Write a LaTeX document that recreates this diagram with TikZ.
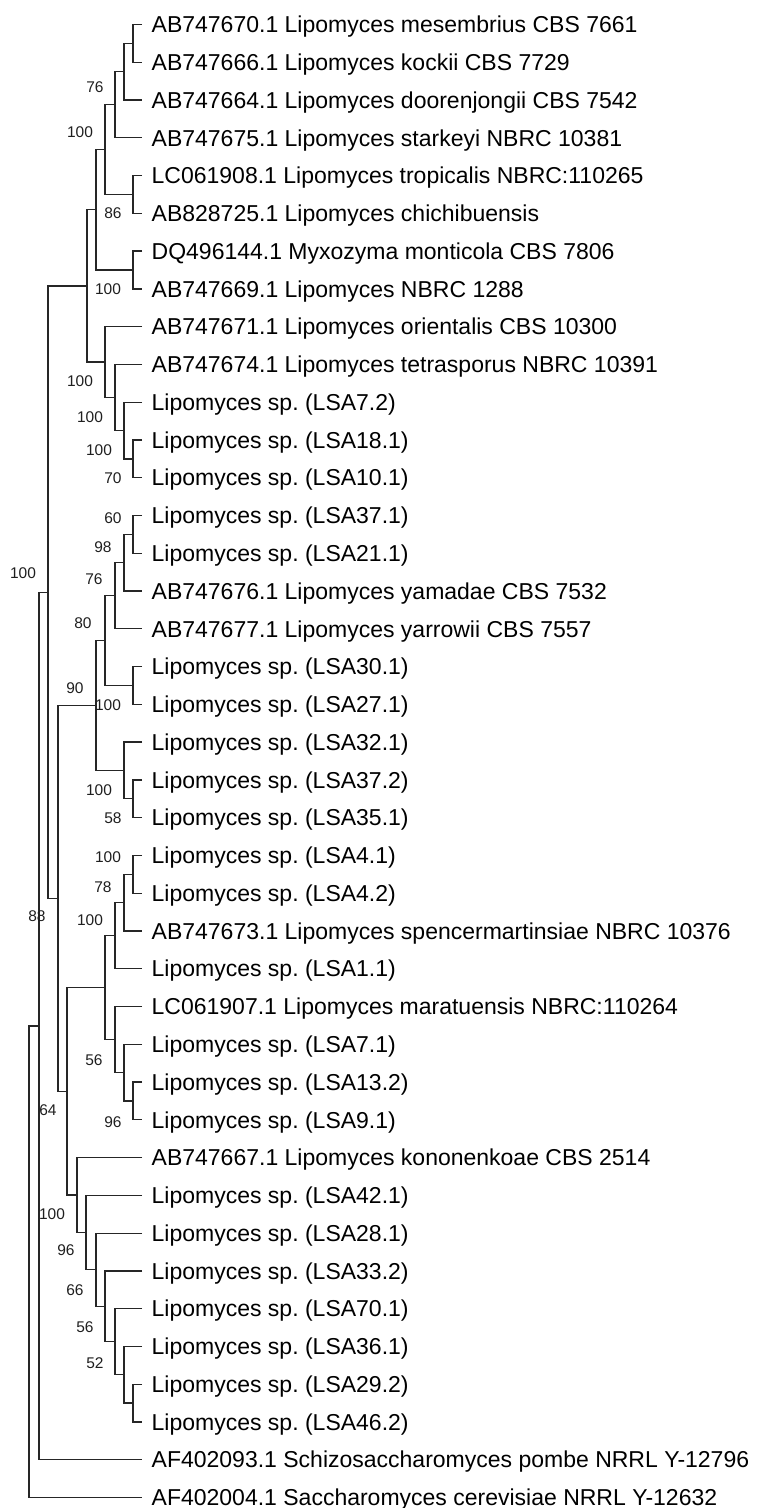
\documentclass[tikz,border=0pt]{standalone}
\usepackage{fontspec}
\setmainfont{Liberation Sans}
\newcommand\ky[1]{(24.5+(#1)*37.77)}
\newcommand\clade[3]{\draw[branch] (#2) -| (#1) |- (#3);}
\begin{document}
\frenchspacing
\begin{tikzpicture}[x=1pt,y=-1pt,
  branch/.style={draw=black!85, line width=1.3pt},
  leaflabel/.style={anchor=base west, inner sep=0pt, font=\fontsize{23}{26}\selectfont, text=black},
  boot/.style={anchor=center, inner sep=0pt, font=\fontsize{15.5}{18}\selectfont, text=black!88}]
\useasboundingbox (0,0) rectangle (757,1508);
\fill[white] (0,0) rectangle (757,1508);
% leaves
\foreach \k/\t in {
0/{AB747670.1 Lipomyces mesembrius CBS 7661},
1/{AB747666.1 Lipomyces kockii CBS 7729},
2/{AB747664.1 Lipomyces doorenjongii CBS 7542},
3/{AB747675.1 Lipomyces starkeyi NBRC 10381},
4/{LC061908.1 Lipomyces tropicalis NBRC:110265},
5/{AB828725.1 Lipomyces chichibuensis},
6/{DQ496144.1 Myxozyma monticola CBS 7806},
7/{AB747669.1 Lipomyces NBRC 1288},
8/{AB747671.1 Lipomyces orientalis CBS 10300},
9/{AB747674.1 Lipomyces tetrasporus NBRC 10391},
10/{Lipomyces sp. (LSA7.2)},
11/{Lipomyces sp. (LSA18.1)},
12/{Lipomyces sp. (LSA10.1)},
13/{Lipomyces sp. (LSA37.1)},
14/{Lipomyces sp. (LSA21.1)},
15/{AB747676.1 Lipomyces yamadae CBS 7532},
16/{AB747677.1 Lipomyces yarrowii CBS 7557},
17/{Lipomyces sp. (LSA30.1)},
18/{Lipomyces sp. (LSA27.1)},
19/{Lipomyces sp. (LSA32.1)},
20/{Lipomyces sp. (LSA37.2)},
21/{Lipomyces sp. (LSA35.1)},
22/{Lipomyces sp. (LSA4.1)},
23/{Lipomyces sp. (LSA4.2)},
24/{AB747673.1 Lipomyces spencermartinsiae NBRC 10376},
25/{Lipomyces sp. (LSA1.1)},
26/{LC061907.1 Lipomyces maratuensis NBRC:110264},
27/{Lipomyces sp. (LSA7.1)},
28/{Lipomyces sp. (LSA13.2)},
29/{Lipomyces sp. (LSA9.1)},
30/{AB747667.1 Lipomyces kononenkoae CBS 2514},
31/{Lipomyces sp. (LSA42.1)},
32/{Lipomyces sp. (LSA28.1)},
33/{Lipomyces sp. (LSA33.2)},
34/{Lipomyces sp. (LSA70.1)},
35/{Lipomyces sp. (LSA36.1)},
36/{Lipomyces sp. (LSA29.2)},
37/{Lipomyces sp. (LSA46.2)},
38/{AF402093.1 Schizosaccharomyces pombe NRRL Y-12796},
39/{AF402004.1 Saccharomyces cerevisiae NRRL Y-12632}}{
  \coordinate (t\k) at (142,{\ky{\k}});
  \node[leaflabel] (l\k) at (151.5,{\ky{\k}+8.2}) {\t};
}
% internal nodes
\coordinate (a1) at (133,{\ky{0.5}});
\coordinate (a2) at (124,{\ky{1.25}});
\coordinate (a3) at (115,{\ky{2.125}});
\coordinate (a4) at (133,{\ky{4.5}});
\coordinate (a5) at (105,{\ky{3.3125}});
\coordinate (a6) at (133,{\ky{6.5}});
\coordinate (a7) at (96,{\ky{4.90625}});
\coordinate (a8) at (133,{\ky{11.5}});
\coordinate (a9) at (124,{\ky{10.75}});
\coordinate (a10) at (115,{\ky{9.875}});
\coordinate (a11) at (105,{\ky{8.9375}});
\coordinate (a12) at (87,{\ky{6.921875}});
\coordinate (b1) at (133,{\ky{13.5}});
\coordinate (b2) at (124,{\ky{14.25}});
\coordinate (b3) at (115,{\ky{15.125}});
\coordinate (b4) at (133,{\ky{17.5}});
\coordinate (b5) at (105,{\ky{16.3125}});
\coordinate (b6) at (133,{\ky{20.5}});
\coordinate (b7) at (124,{\ky{19.75}});
\coordinate (b8) at (96,{\ky{18.03125}});
\coordinate (c1) at (133,{\ky{22.5}});
\coordinate (c2) at (124,{\ky{23.25}});
\coordinate (c3) at (115,{\ky{24.125}});
\coordinate (c4) at (133,{\ky{28.5}});
\coordinate (c5) at (124,{\ky{27.75}});
\coordinate (c6) at (115,{\ky{26.875}});
\coordinate (c7) at (105,{\ky{25.5}});
\coordinate (d1) at (133,{\ky{36.5}});
\coordinate (d2) at (124,{\ky{35.75}});
\coordinate (d3) at (115,{\ky{34.875}});
\coordinate (d4) at (105,{\ky{33.9375}});
\coordinate (d5) at (96,{\ky{32.96875}});
\coordinate (d6) at (86,{\ky{31.984375}});
\coordinate (d7) at (77,{\ky{30.9921875}});
\coordinate (e1) at (67,{\ky{28.24609}});
\coordinate (e2) at (58,{\ky{23.13867}});
\coordinate (e3) at (48,{\ky{15.03027}});
\coordinate (e4) at (39,{\ky{26.51514}});
\coordinate (rt) at (29,{\ky{32.75757}});
% branches
\clade{a1}{t0}{t1}
\clade{a2}{a1}{t2}
\clade{a3}{a2}{t3}
\clade{a4}{t4}{t5}
\clade{a5}{a3}{a4}
\clade{a6}{t6}{t7}
\clade{a7}{a5}{a6}
\clade{a8}{t11}{t12}
\clade{a9}{t10}{a8}
\clade{a10}{t9}{a9}
\clade{a11}{t8}{a10}
\clade{a12}{a7}{a11}
\clade{b1}{t13}{t14}
\clade{b2}{b1}{t15}
\clade{b3}{b2}{t16}
\clade{b4}{t17}{t18}
\clade{b5}{b3}{b4}
\clade{b6}{t20}{t21}
\clade{b7}{t19}{b6}
\clade{b8}{b5}{b7}
\clade{c1}{t22}{t23}
\clade{c2}{c1}{t24}
\clade{c3}{c2}{t25}
\clade{c4}{t28}{t29}
\clade{c5}{t27}{c4}
\clade{c6}{t26}{c5}
\clade{c7}{c3}{c6}
\clade{d1}{t36}{t37}
\clade{d2}{t35}{d1}
\clade{d3}{t34}{d2}
\clade{d4}{t33}{d3}
\clade{d5}{t32}{d4}
\clade{d6}{t31}{d5}
\clade{d7}{t30}{d6}
\clade{e1}{c7}{d7}
\clade{e2}{b8}{e1}
\clade{e3}{a12}{e2}
\clade{e4}{e3}{t38}
\clade{rt}{e4}{t39}
% bootstrap values
\node[boot] (s1) at (95,87) {76};
\node[boot] (s2) at (80,132) {100};
\node[boot] (s3) at (113,213) {86};
\node[boot] (s4) at (108,289) {100};
\node[boot] (s5) at (80,381) {100};
\node[boot] (s6) at (90,417) {100};
\node[boot] (s7) at (99,450) {100};
\node[boot] (s8) at (113,478) {70};
\node[boot] (s9) at (113,518) {60};
\node[boot] (s10) at (103,547) {98};
\node[boot] (s11) at (94,579) {76};
\node[boot] (s12) at (83,623) {80};
\node[boot] (s13) at (75,688) {90};
\node[boot] (s14) at (108,705) {100};
\node[boot] (s15) at (23,573) {100};
\node[boot] (s16) at (99,790) {100};
\node[boot] (s17) at (113,818) {58};
\node[boot] (s18) at (108,857) {100};
\node[boot] (s19) at (103,887) {78};
\node[boot] (s20) at (90,920) {100};
\node[boot] (s21) at (37,916) {88};
\node[boot] (s22) at (94,1060) {56};
\node[boot] (s23) at (113,1122) {96};
\node[boot] (s24) at (48,1110) {64};
\node[boot] (s25) at (52,1214) {100};
\node[boot] (s26) at (66,1250) {96};
\node[boot] (s27) at (75,1290) {66};
\node[boot] (s28) at (85,1327) {56};
\node[boot] (s29) at (95,1363) {52};
\end{tikzpicture}
\end{document}
